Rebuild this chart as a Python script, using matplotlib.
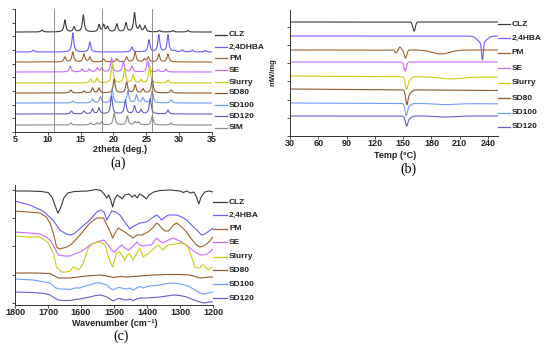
import numpy as np
import matplotlib
matplotlib.use('Agg')
import matplotlib.pyplot as plt
from matplotlib.lines import Line2D

plt.rcParams['font.family'] = ['Liberation Sans', 'DejaVu Sans']

W, H = 550, 350

# ---------------- data ----------------
labels_a = ['CLZ', '2,4DHBA', 'PM', 'SE', 'Slurry', 'SD80', 'SD100', 'SD120', 'SIM']
labels_bc = ['CLZ', '2,4HBA', 'PM', 'SE', 'Slurry', 'SD80', 'SD100', 'SD120']
colors_a = ['#3a3a3a', '#6a5cff', '#a0622d', '#c46cff', '#cccc10', '#8c5a2e', '#6f9cff', '#6060c8', '#8c8c8c']
colors_bc = colors_a[:8]

# XRD peaks: (2theta, height)
xrd_clz = [(9.1, 2), (12.6, 12), (14.0, 5), (15.4, 17), (17.8, 7), (18.5, 7), (19.1, 5),
           (20.5, 8), (21.9, 9), (23.2, 19), (24.0, 6), (24.8, 6), (27.0, 1.5), (29.0, 1.5), (31.3, 1.5)]
xrd_hba = [(7.8, 2), (13.8, 19), (16.4, 10), (22.8, 5), (25.4, 12), (26.9, 17), (28.3, 17),
           (29.3, 1.5), (30.5, 2), (32.0, 2), (34.0, 1.5)]
xrd_pm = [(12.6, 5), (13.8, 10), (15.5, 8), (16.4, 5), (18.5, 3), (20.5, 3), (22.0, 5),
          (23.3, 10), (24.7, 3), (25.3, 5), (26.9, 8), (28.3, 8)]
xrd_se = [(13.4, 6), (15.2, 3), (16.3, 3), (17.5, 4), (18.2, 4), (19.7, 14), (21.5, 10),
          (22.8, 6), (25.2, 11), (26.8, 2), (28.0, 3)]
xrd_slurry = [(16.5, 4), (17.5, 5), (19.8, 20), (21.7, 15), (23.0, 8), (24.2, 3), (25.5, 18), (28.3, 3)]
xrd_sd80 = [(13.5, 3), (15.5, 2), (16.8, 5), (17.8, 5), (20.1, 14), (22.0, 11), (23.3, 8),
            (24.5, 4), (25.9, 14), (28.8, 3)]
xrd_sd100 = [(13.8, 2), (16.8, 4), (18.0, 6), (19.8, 14), (22.2, 12), (23.5, 8), (24.5, 5),
             (25.9, 13), (28.8, 3)]
xrd_sd120 = [(13.6, 3), (15.5, 3), (16.8, 5), (17.8, 6), (19.7, 18), (21.8, 14), (23.2, 8),
             (24.2, 4), (25.6, 16), (28.3, 4)]
xrd_sim = [(13.5, 2), (16.5, 2), (17.5, 2), (18.2, 3), (20.1, 12), (22.1, 9), (23.3, 3),
           (23.8, 3), (25.9, 9), (28.8, 2)]
xrd_all = [xrd_clz, xrd_hba, xrd_pm, xrd_se, xrd_slurry, xrd_sd80, xrd_sd100, xrd_sd120, xrd_sim]
xrd_offsets = [100, 80, 70, 60, 49, 39, 29, 18, 7]
xrd_ref_lines = [11.0, 18.2, 25.8]

# DSC endotherms: (temperature, depth, width)
dsc_clz = [(161.5, 9, 1.3)]
dsc_hba = [(234.0, 17, 0.9), (233.5, 7, 4.5)]
dsc_pm = [(142.5, 3, 1.2), (146.5, -3, 1.2), (152.5, 8, 1.3), (190.0, 4, 9.0)]
dsc_se = [(152.0, 9, 1.3)]
dsc_slurry = [(153.5, 10, 1.2), (155.5, 4, 2.5), (200.0, 2, 12.0)]
dsc_sd80 = [(153.8, 12, 1.2), (156.0, 4, 2.5)]
dsc_sd100 = [(153.2, 10, 1.2), (155.0, 3, 2.5), (195.0, 1, 10.0)]
dsc_sd120 = [(153.5, 8, 1.2), (155.5, 3, 2.5), (195.0, 1, 10.0)]
dsc_all = [dsc_clz, dsc_hba, dsc_pm, dsc_se, dsc_slurry, dsc_sd80, dsc_sd100, dsc_sd120]
dsc_offsets = [114, 100, 86, 74, 60, 47, 33, 20]
dsc_slopes = [0, 0, 0, 0, -1.2, -1.5, -0.8, 0]

# FTIR traces: (wavenumber, relative level)
ftir_clz = [(1800, 114), (1760, 114), (1720, 113.5), (1700, 112.5), (1688, 108), (1678, 99),
            (1670, 92), (1662, 97), (1652, 107), (1640, 112), (1620, 113.5), (1580, 114),
            (1555, 115.5), (1540, 114.5), (1530, 111), (1522, 107), (1516, 110), (1510, 105),
            (1504, 98), (1498, 106), (1490, 110), (1482, 108), (1475, 106), (1468, 110),
            (1455, 111), (1445, 108), (1437, 110), (1430, 107), (1422, 111), (1412, 109),
            (1402, 106), (1394, 110), (1380, 113), (1360, 114.5), (1330, 115), (1300, 114),
            (1290, 112.5), (1280, 114), (1268, 112), (1258, 113), (1250, 108), (1243, 101),
            (1236, 108), (1225, 113), (1212, 114), (1200, 113)]
ftir_hba = [(1800, 104), (1755, 100), (1715, 94), (1685, 85), (1664, 75), (1645, 71),
            (1632, 70), (1618, 72), (1598, 78), (1573, 85), (1552, 93), (1540, 95),
            (1530, 93), (1522, 85), (1515, 89), (1507, 94), (1495, 93), (1482, 90),
            (1465, 82), (1452, 76), (1440, 79), (1421, 82), (1401, 83), (1385, 87),
            (1371, 90), (1363, 88), (1356, 85), (1345, 88), (1335, 90), (1310, 90),
            (1295, 88), (1280, 85), (1265, 80), (1249, 75), (1235, 70), (1225, 71),
            (1212, 74), (1200, 77)]
ftir_pm = [(1800, 94), (1760, 93), (1724, 92), (1705, 88), (1694, 82), (1684, 72),
           (1674, 58), (1665, 56), (1643, 58), (1628, 61), (1603, 70), (1573, 82),
           (1552, 87), (1532, 87), (1517, 77), (1510, 72), (1504, 67), (1497, 72),
           (1487, 77), (1477, 75), (1467, 73), (1455, 70), (1442, 67), (1430, 70),
           (1416, 70), (1397, 73), (1380, 78), (1371, 82), (1363, 80), (1356, 77),
           (1345, 74), (1335, 74), (1320, 80), (1310, 82), (1295, 78), (1280, 73),
           (1270, 68), (1260, 64), (1250, 60), (1239, 58), (1229, 59), (1219, 61),
           (1210, 64), (1200, 68)]
ftir_se = [(1800, 73), (1760, 72), (1724, 71), (1705, 68), (1694, 65), (1680, 57),
           (1669, 50), (1650, 49), (1633, 49), (1618, 51), (1603, 53), (1588, 56),
           (1573, 60), (1552, 63), (1532, 65), (1520, 61), (1512, 57), (1504, 54),
           (1497, 53), (1487, 57), (1477, 60), (1467, 57), (1457, 55), (1445, 58),
           (1431, 63), (1421, 60), (1411, 59), (1398, 60), (1386, 60), (1371, 67),
           (1361, 64), (1351, 62), (1335, 65), (1320, 67), (1308, 65), (1295, 63),
           (1282, 60), (1270, 57), (1255, 53), (1239, 50), (1229, 50), (1219, 51),
           (1210, 53), (1200, 56)]
ftir_slurry = [(1800, 69), (1760, 68), (1724, 68), (1710, 65), (1699, 62), (1684, 52),
               (1674, 38), (1659, 33), (1645, 33), (1633, 34), (1623, 38), (1616, 37),
               (1608, 35), (1600, 38), (1593, 42), (1585, 50), (1578, 57), (1563, 62),
               (1542, 63), (1527, 60), (1517, 48), (1510, 42), (1504, 38), (1498, 45),
               (1492, 52), (1482, 53), (1475, 49), (1467, 45), (1459, 50), (1452, 51),
               (1446, 47), (1442, 45), (1432, 51), (1421, 57), (1416, 52), (1411, 48),
               (1404, 50), (1396, 51), (1388, 54), (1381, 56), (1366, 60), (1358, 57),
               (1351, 55), (1343, 58), (1336, 60), (1315, 61), (1295, 62), (1280, 60),
               (1272, 55), (1265, 48), (1255, 38), (1247, 37), (1239, 37), (1234, 40),
               (1229, 40), (1221, 37), (1214, 35), (1206, 37), (1200, 38)]
ftir_sd80 = [(1800, 32), (1745, 32), (1694, 31.5), (1680, 29), (1669, 27), (1633, 27),
             (1583, 29), (1542, 30), (1522, 29), (1502, 27.5), (1482, 28.5), (1462, 28),
             (1421, 29), (1381, 30), (1340, 30.5), (1300, 30.5), (1270, 30), (1255, 28.5),
             (1239, 27), (1225, 27.5), (1210, 28), (1200, 28)]
ftir_sd100 = [(1800, 26), (1745, 25), (1710, 23), (1694, 22), (1680, 18), (1669, 16),
              (1650, 16), (1633, 15.5), (1618, 17), (1603, 17), (1588, 19), (1573, 20),
              (1555, 22), (1542, 22), (1530, 21), (1522, 20), (1512, 17), (1502, 15),
              (1492, 17), (1482, 17.5), (1472, 16.5), (1462, 16), (1452, 17), (1442, 15),
              (1431, 17), (1421, 18.5), (1411, 17), (1401, 18.5), (1381, 19.5), (1361, 20),
              (1340, 21.5), (1320, 22), (1300, 21), (1280, 19.5), (1270, 18), (1255, 15),
              (1239, 12), (1229, 11), (1219, 11.5), (1210, 12.5), (1200, 13)]
ftir_sd120 = [(1800, 13), (1745, 12.5), (1710, 11.5), (1694, 10), (1680, 7), (1669, 5),
              (1650, 4.5), (1633, 4.5), (1618, 5.5), (1603, 6), (1588, 7), (1573, 8),
              (1555, 9.5), (1542, 10), (1530, 9), (1522, 8), (1512, 6), (1502, 4),
              (1492, 6), (1482, 6.5), (1472, 5.5), (1462, 5), (1452, 6), (1442, 4.5),
              (1431, 6), (1421, 7), (1401, 7), (1381, 7.5), (1361, 8), (1340, 9),
              (1320, 10), (1300, 9.5), (1280, 8), (1265, 6), (1250, 4), (1239, 3),
              (1229, 2), (1219, 2.5), (1210, 3), (1200, 3)]
ftir_all = [ftir_clz, ftir_hba, ftir_pm, ftir_se, ftir_slurry, ftir_sd80, ftir_sd100, ftir_sd120]

# ---------------- layout helpers ----------------
def fx(px):
    return px / W

def fy(py):
    return 1 - py / H

def axes_px(fig, left, top, right, bottom):
    return fig.add_axes([fx(left), fy(bottom), (right - left) / W, (bottom - top) / H])

def style_axes(ax):
    for s in ('top', 'right'):
        ax.spines[s].set_visible(False)
    for s in ('left', 'bottom'):
        ax.spines[s].set_linewidth(0.7)
        ax.spines[s].set_color('#333333')
    ax.tick_params(axis='both', direction='out', length=2, width=0.6, colors='#333333',
                   labelsize=6.5, pad=0.3)
    ax.tick_params(axis='y', labelleft=False)
    for t in ax.get_xticklabels():
        t.set_fontweight('bold')
        t.set_color('#222222')

def legend_entries(fig, names, cols, ys, x0, x1, xt):
    for n, c, y in zip(names, cols, ys):
        fig.add_artist(Line2D([fx(x0), fx(x1)], [fy(y), fy(y)], color=c, lw=0.9))
        fig.text(fx(xt), fy(y), n, fontsize=6, fontweight='bold', color='#222222',
                 va='center', ha='left')

fig = plt.figure(figsize=(5.5, 3.5), dpi=100)

# ---------------- (a) XRD ----------------
ax = axes_px(fig, 15, 9, 212, 132)
tt = np.linspace(5, 35, 4000)
for peaks, off, c in zip(xrd_all, xrd_offsets, colors_a):
    y = np.full_like(tt, float(off))
    for p, h in peaks:
        y += h / (1 + ((tt - p) / 0.17) ** 2)
    ax.plot(tt, y, color=c, lw=0.8)
for xv in xrd_ref_lines:
    ax.axvline(xv, color='#7f7f7f', lw=0.6)
ax.set_xlim(5, 35)
ax.set_ylim(0, 123)
ax.set_xticks(np.arange(5, 36, 5))
ax.set_yticks(np.arange(0, 124, 13.67))
style_axes(ax)
fig.text(fx(120), fy(149.5), '2theta (deg.)', fontsize=6.5, fontweight='bold', ha='center', va='center', color='#222222')
fig.text(fx(118), fy(163.5), '(a)', fontsize=10, family='Liberation Serif', ha='center', va='center')
legend_entries(fig, labels_a, colors_a, [35, 47, 58, 70, 82, 93, 105, 116, 128], 215, 227, 229)

# ---------------- (b) DSC ----------------
ax = axes_px(fig, 290, 10, 498, 136)
T = np.linspace(30, 250.5, 3000)
for dips, off, sl, c in zip(dsc_all, dsc_offsets, dsc_slopes, colors_bc):
    y = off + sl * (T - 30) / 220.0
    for t0, d, w in dips:
        y = y - d * np.exp(-0.5 * ((T - t0) / w) ** 2)
    ax.plot(T, y, color=c, lw=0.8)
ax.set_xlim(30, 250.5)
ax.set_ylim(0, 126)
ax.set_xticks(np.arange(30, 241, 30))
ax.set_yticks(np.arange(0, 127, 18.2))
style_axes(ax)
fig.text(fx(395), fy(155.5), 'Temp (°C)', fontsize=6.5, fontweight='bold', ha='center', va='center', color='#222222')
fig.text(fx(408), fy(169), '(b)', fontsize=10, family='Liberation Serif', ha='center', va='center')
fig.text(fx(273), fy(72), 'mW/mg', fontsize=5.5, fontweight='bold', rotation=90, ha='center', va='center', color='#222222')
legend_entries(fig, labels_bc, colors_bc, [24, 38, 53, 68, 83, 98, 113, 127], 498, 510, 512)

# ---------------- (c) FTIR ----------------
ax = axes_px(fig, 15, 185, 213, 305)
for pts, c in zip(ftir_all, colors_bc):
    wn = [p[0] for p in pts]
    lv = [p[1] for p in pts]
    ax.plot(wn, lv, color=c, lw=0.8)
ax.set_xlim(1800, 1200)
ax.set_ylim(0, 120)
ax.set_xticks(np.arange(1800, 1199, -100))
ax.set_yticks(np.arange(2, 121, 28.3))
style_axes(ax)
fig.text(fx(115), fy(324), 'Wavenumber (cm⁻¹)', fontsize=6.5, fontweight='bold', ha='center', va='center',
         color='#222222', family=['Liberation Sans', 'DejaVu Sans'])
fig.text(fx(121), fy(336), '(c)', fontsize=10, family='Liberation Serif', ha='center', va='center')
legend_entries(fig, labels_bc, colors_bc, [202, 215, 229, 242, 257, 270, 284, 298], 213, 227, 229)

fig.savefig('out.png', dpi=100)
